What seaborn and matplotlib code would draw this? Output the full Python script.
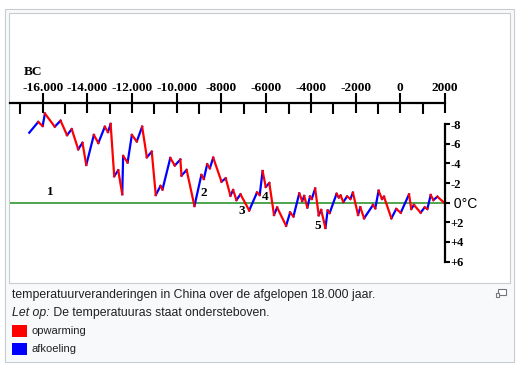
import numpy as np
import pandas as pd
import matplotlib
matplotlib.use("Agg")
import matplotlib.pyplot as plt
import seaborn as sns
from matplotlib.patches import Rectangle

# ---------------- data ----------------
years = [-16600, -16200, -16000, -15900, -15460, -15200, -14910, -14700, -14410, -14220,
         -14050, -13710, -13510, -13220, -13080, -12960, -12800, -12620, -12440, -12400,
         -12200, -12010, -11790, -11550, -11340, -11120, -10940, -10730, -10640, -10290,
         -10090, -9840, -9790, -9560, -9210, -8900, -8790, -8640, -8520, -8370,
         -8000, -7810, -7600, -7480, -7330, -7150, -6760, -6410, -6290, -6160,
         -6020, -5860, -5650, -5510, -5110, -4930, -4780, -4520, -4390, -4300,
         -4160, -4040, -3960, -3810, -3650, -3540, -3350, -3250, -3160, -2850,
         -2750, -2670, -2550, -2380, -2230, -2120, -1890, -1790, -1620, -1220,
         -1120, -970, -820, -730, -400, -180, 20, 390, 490, 610,
         910, 1090, 1210, 1360, 1480, 1660, 1960]
temps = [-7.12, -8.21, -7.80, -9.07, -7.73, -8.34, -6.87, -7.48, -5.43, -6.09,
         -3.84, -6.89, -6.07, -7.72, -7.19, -8.01, -2.69, -3.30, -0.86, -4.75,
         -4.09, -6.89, -6.23, -7.73, -4.62, -5.19, -0.78, -1.70, -1.34, -4.55,
         -3.78, -4.39, -2.75, -3.33, 0.34, -2.82, -2.41, -3.91, -3.50, -4.58,
         -2.14, -2.48, -0.71, -1.29, -0.27, -0.85, 0.79, -1.04, -0.78, -3.22,
         -1.60, -2.00, 1.25, 0.49, 2.35, 1.00, 1.40, -0.94, -0.17, -0.68,
         0.49, -0.63, -0.38, -1.44, 1.28, 0.74, 2.57, 0.79, 1.05, -0.91,
         -0.53, -0.73, -0.07, -0.63, -0.38, -1.02, 1.25, 0.47, 1.59, 0.23,
         0.57, -1.22, -0.38, -0.61, 1.59, 0.64, 1.02, -0.85, 0.64, 0.23,
         1.02, 0.47, 0.64, -0.78, -0.27, -0.61, 0.00]

x_ticks = [-16000, -14000, -12000, -10000, -8000, -6000, -4000, -2000, 0, 2000]
x_tick_labels = ["-16.000", "-14.000", "-12.000", "-10.000", "-8000", "-6000",
                 "-4000", "-2000", "0", "2000"]
x_minor_ticks = [-17000, -15000, -13000, -11000, -9000, -7000, -5000, -3000, -1000, 1000]
y_ticks = [-8, -6, -4, -2, 0, 2, 4, 6]
y_tick_labels = ["-8", "-6", "-4", "-2", " 0°C", "+2", "+4", "+6"]

event_labels = ["1", "2", "3", "4", "5"]
event_years = [-15670, -8790, -7090, -6060, -3700]
event_temps = [-1.12, -0.95, 0.84, -0.55, 2.38]

caption_line1 = "temperatuurveranderingen in China over de afgelopen 18.000 jaar."
caption_note_italic = "Let op:"
caption_note = " De temperatuuras staat ondersteboven."
legend_labels = ["opwarming", "afkoeling"]
legend_colors = ["#ff0000", "#0000ff"]

# ---------------- figure ----------------
W, H = 528, 370
fig = plt.figure(figsize=(W / 100, H / 100), dpi=100)
fig.patch.set_facecolor("white")


def fx(x):
    return x / W


def fy(y):
    return 1 - y / H


# thumbnail frames
fig.add_artist(Rectangle((fx(5), fy(362)), (514 - 5) / W, (362 - 9) / H,
                         transform=fig.transFigure, facecolor="#f8f9fa",
                         edgecolor="#c8ccd1", lw=0.8, zorder=0))
fig.add_artist(Rectangle((fx(9), fy(283)), (510 - 9) / W, (283 - 13) / H,
                         transform=fig.transFigure, facecolor="white",
                         edgecolor="#c8ccd1", lw=0.8, zorder=0))

ax = fig.add_axes([fx(10), fy(265), 435 / W, 162 / H])
ax.patch.set_alpha(0)

# segments coloured by direction
rows = []
for i in range(len(years) - 1):
    kind = legend_labels[0] if temps[i + 1] > temps[i] else legend_labels[1]
    rows.append(dict(seg=i, year=years[i], temp=temps[i], kind=kind))
    rows.append(dict(seg=i, year=years[i + 1], temp=temps[i + 1], kind=kind))
df = pd.DataFrame(rows)

ax.axhline(0, color="#3f9f3f", lw=1.3, zorder=1)
sns.lineplot(data=df, x="year", y="temp", hue="kind", units="seg", estimator=None,
             sort=False, palette=dict(zip(legend_labels, legend_colors)),
             linewidth=1.6, legend=False, ax=ax, zorder=2)

ax.set_xlim(-17462, 2000)
ax.set_ylim(6.34, -10.14)
ax.set_xlabel("")
ax.set_ylabel("")

for s in ["left", "bottom"]:
    ax.spines[s].set_visible(False)
ax.spines["top"].set_linewidth(1.6)
ax.spines["right"].set_linewidth(1.6)
ax.spines["right"].set_bounds(-8, 6)
ax.spines["top"].set_color("black")
ax.spines["right"].set_color("black")

serif_bold = dict(fontfamily="Liberation Serif", fontweight="bold", color="black")

ax.xaxis.tick_top()
ax.set_xticks(x_ticks)
ax.set_xticklabels(x_tick_labels, fontsize=9.6, **serif_bold)
ax.set_xticks(x_minor_ticks, minor=True)
ax.tick_params(axis="x", which="major", direction="inout", length=14.4, width=1.5,
               pad=-0.5, color="black", top=True, bottom=False,
               labeltop=True, labelbottom=False)
ax.tick_params(axis="x", which="minor", direction="in", length=7.9, width=1.5,
               color="black", top=True, bottom=False)

ax.yaxis.tick_right()
ax.set_yticks(y_ticks)
ylabs = ax.set_yticklabels(y_tick_labels, fontsize=9, **serif_bold)
ax.tick_params(axis="y", which="major", direction="out", length=3.6, width=1.5,
               pad=0.3, color="black", right=True, left=False,
               labelright=True, labelleft=False)
ylabs[4].set_fontfamily("Liberation Sans")
ylabs[4].set_fontweight("normal")
ylabs[4].set_fontsize(10)

for lab, yr, tp in zip(event_labels, event_years, event_temps):
    ax.text(yr, tp, lab, ha="center", va="center", fontsize=9.5, **serif_bold)

fig.text(fx(32.7), fy(71.7), "BC", ha="center", va="center", fontsize=9.6, **serif_bold)

# caption
cap_kw = dict(fontfamily="Liberation Sans", color="#202122")
fig.text(fx(12), fy(295), caption_line1, ha="left", va="center", fontsize=8.8, **cap_kw)
t_it = fig.text(fx(12), fy(313), caption_note_italic, ha="left", va="center",
                fontsize=8.8, fontstyle="italic", **cap_kw)
fig.canvas.draw()
bb = t_it.get_window_extent(renderer=fig.canvas.get_renderer())
fig.text(bb.x1 / W, fy(313), caption_note, ha="left", va="center", fontsize=8.8, **cap_kw)

legend_y = [330.5, 348.5]
for lab, col, yc in zip(legend_labels, legend_colors, legend_y):
    fig.add_artist(Rectangle((fx(12), fy(yc + 6)), 15 / W, 12 / H,
                             transform=fig.transFigure, facecolor=col,
                             edgecolor="none", zorder=3))
    fig.text(fx(31), fy(yc), lab, ha="left", va="center", fontsize=8, **cap_kw)

# magnify icon
fig.add_artist(Rectangle((fx(497.5), fy(294.5)), 8 / W, 6 / H, transform=fig.transFigure,
                         facecolor="white", edgecolor="#72777d", lw=0.8, zorder=3))
fig.add_artist(Rectangle((fx(495.5), fy(296.5)), 3.5 / W, 3.5 / H, transform=fig.transFigure,
                         facecolor="white", edgecolor="#72777d", lw=0.8, zorder=4))

fig.savefig("out.png", dpi=100)
